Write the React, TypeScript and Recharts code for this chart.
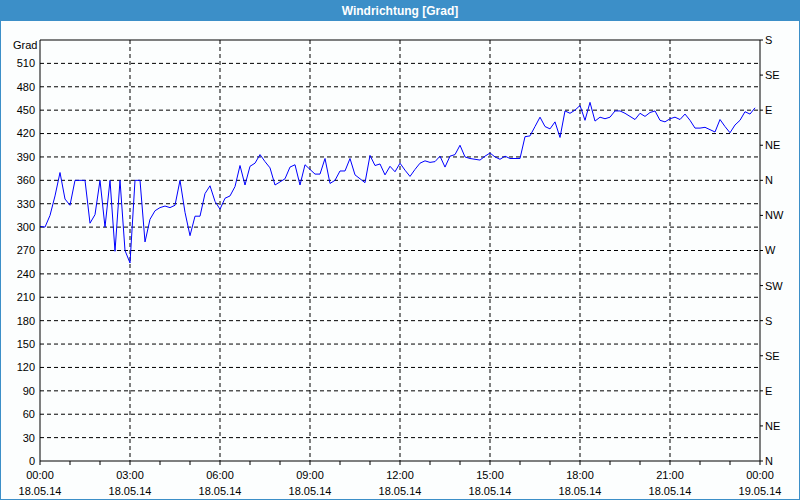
import { LineChart, Line, XAxis, YAxis, CartesianGrid, ReferenceLine } from "recharts";

// wind direction in degrees, one reading every 10 minutes from 00:00
const directionValues = [
  301, 300, 315, 340, 370, 336, 328, 360, 360, 360,
  305, 316, 360, 300, 360, 269, 360, 270, 254, 360,
  360, 281, 310, 321, 325, 327, 325, 328, 360, 319,
  289, 314, 314, 343, 353, 333, 323, 337, 340, 352,
  379, 354, 378, 382, 393, 384, 376, 354, 358, 362,
  377, 380, 354, 380, 374, 368, 368, 388, 356, 360,
  372, 372, 388, 367, 362, 357, 392, 379, 381, 367,
  378, 371, 382, 373, 365, 374, 382, 385, 383, 384,
  391, 377, 391, 393, 405, 390, 388, 387, 386, 391,
  395, 390, 387, 391, 388, 388, 388, 416, 417, 429,
  441, 429, 426, 435, 415, 449, 446, 450, 456, 437,
  460, 436, 441, 439, 441, 449, 449, 446, 442, 438,
  446, 442, 447, 449, 437, 435, 439, 441, 438, 445,
  437, 427, 427, 428, 425, 422, 438, 429, 421, 431,
  437, 448, 445, 453,
];

const hourTicks = [
  0, 60, 120, 180, 240, 300, 360, 420, 480, 540, 600, 660, 720,
  780, 840, 900, 960, 1020, 1080, 1140, 1200, 1260, 1320, 1380, 1440,
];
const gridTimes = [180, 360, 540, 720, 900, 1080, 1260];
const timeLabels = ["00:00", "03:00", "06:00", "09:00", "12:00", "15:00", "18:00", "21:00", "00:00"];
const dateLabels = [
  "18.05.14", "18.05.14", "18.05.14", "18.05.14", "18.05.14",
  "18.05.14", "18.05.14", "18.05.14", "19.05.14",
];

const gradTicks = [0, 30, 60, 90, 120, 150, 180, 210, 240, 270, 300, 330, 360, 390, 420, 450, 480, 510];
const gradGrid = [30, 60, 90, 120, 150, 180, 210, 240, 270, 300, 330, 360, 390, 420, 450, 480, 510];
const compassTicks = [0, 45, 90, 135, 180, 225, 270, 315, 360, 405, 450, 495, 540];
const compassLabels = ["N", "NE", "E", "SE", "S", "SW", "W", "NW", "N", "NE", "E", "SE", "S"];

const data = directionValues.map((grad, i) => ({ t: i * 10, grad }));

const FONT = "'Liberation Sans', Arial, sans-serif";
const tickStyle = { fill: "#000", fontSize: 11, fontFamily: FONT };

function TimeTick(props: any) {
  const { x, y, payload } = props;
  const v = payload.value as number;
  if (v % 180 !== 0) return <g />;
  const i = v / 180;
  return (
    <g>
      <text x={x} y={y + 12} textAnchor="middle" {...tickStyle}>
        {timeLabels[i]}
      </text>
      <text x={x} y={y + 28} textAnchor="middle" {...tickStyle}>
        {dateLabels[i]}
      </text>
    </g>
  );
}

function CompassTick(props: any) {
  const { x, y, payload } = props;
  const label = compassLabels[compassTicks.indexOf(payload.value)];
  return (
    <text x={x} y={y} dy="0.36em" textAnchor="start" {...tickStyle}>
      {label}
    </text>
  );
}

export default function App() {
  return (
    <div
      style={{
        position: "fixed",
        left: 0,
        top: 0,
        width: 800,
        height: 500,
        boxSizing: "border-box",
        border: "1px solid #3c8fc8",
        background: "#fcfefe",
        fontFamily: FONT,
      }}
    >
      <div
        style={{
          position: "absolute",
          left: 0,
          top: 0,
          right: 0,
          height: 20,
          background: "#3c8fc8",
          color: "#fff",
          fontWeight: "bold",
          fontSize: 12,
          lineHeight: "20px",
          textAlign: "center",
        }}
      >
        Windrichtung [Grad]
      </div>
      <div
        style={{
          position: "absolute",
          left: 12,
          top: 38,
          fontSize: 11,
          color: "#000",
        }}
      >
        Grad
      </div>
      <div style={{ position: "absolute", left: -1, top: -1 }}>
        <LineChart width={800} height={500} data={data} margin={{ top: 40, right: 0, bottom: 0, left: 0 }}>
          <CartesianGrid
            yAxisId="left"
            stroke="#000"
            strokeDasharray="4 3"
            horizontalValues={gradGrid}
            verticalValues={gridTimes}
          />
          <XAxis
            dataKey="t"
            type="number"
            domain={[0, 1440]}
            ticks={hourTicks}
            interval={0}
            height={39}
            axisLine={{ stroke: "#000" }}
            tickLine={{ stroke: "#000" }}
            tickSize={4}
            tick={<TimeTick />}
          />
          <YAxis
            yAxisId="left"
            orientation="left"
            domain={[0, 540]}
            ticks={gradTicks}
            interval={0}
            width={40}
            axisLine={{ stroke: "#000" }}
            tickLine={false}
            tickSize={0}
            tickMargin={5}
            tick={tickStyle}
          />
          <YAxis
            yAxisId="right"
            orientation="right"
            type="number"
            domain={[0, 540]}
            allowDataOverflow
            ticks={compassTicks}
            interval={0}
            width={40}
            axisLine={{ stroke: "#000" }}
            tickLine={{ stroke: "#000" }}
            tickSize={3}
            tickMargin={2}
            tick={<CompassTick />}
          />
          <ReferenceLine yAxisId="left" y={540} stroke="#000" />
          <Line
            yAxisId="right"
            type="linear"
            dataKey="grad"
            stroke="none"
            dot={false}
            activeDot={false}
            isAnimationActive={false}
          />
          <Line
            yAxisId="left"
            type="linear"
            dataKey="grad"
            stroke="#0000ff"
            strokeWidth={1}
            dot={false}
            isAnimationActive={false}
          />
        </LineChart>
      </div>
    </div>
  );
}
